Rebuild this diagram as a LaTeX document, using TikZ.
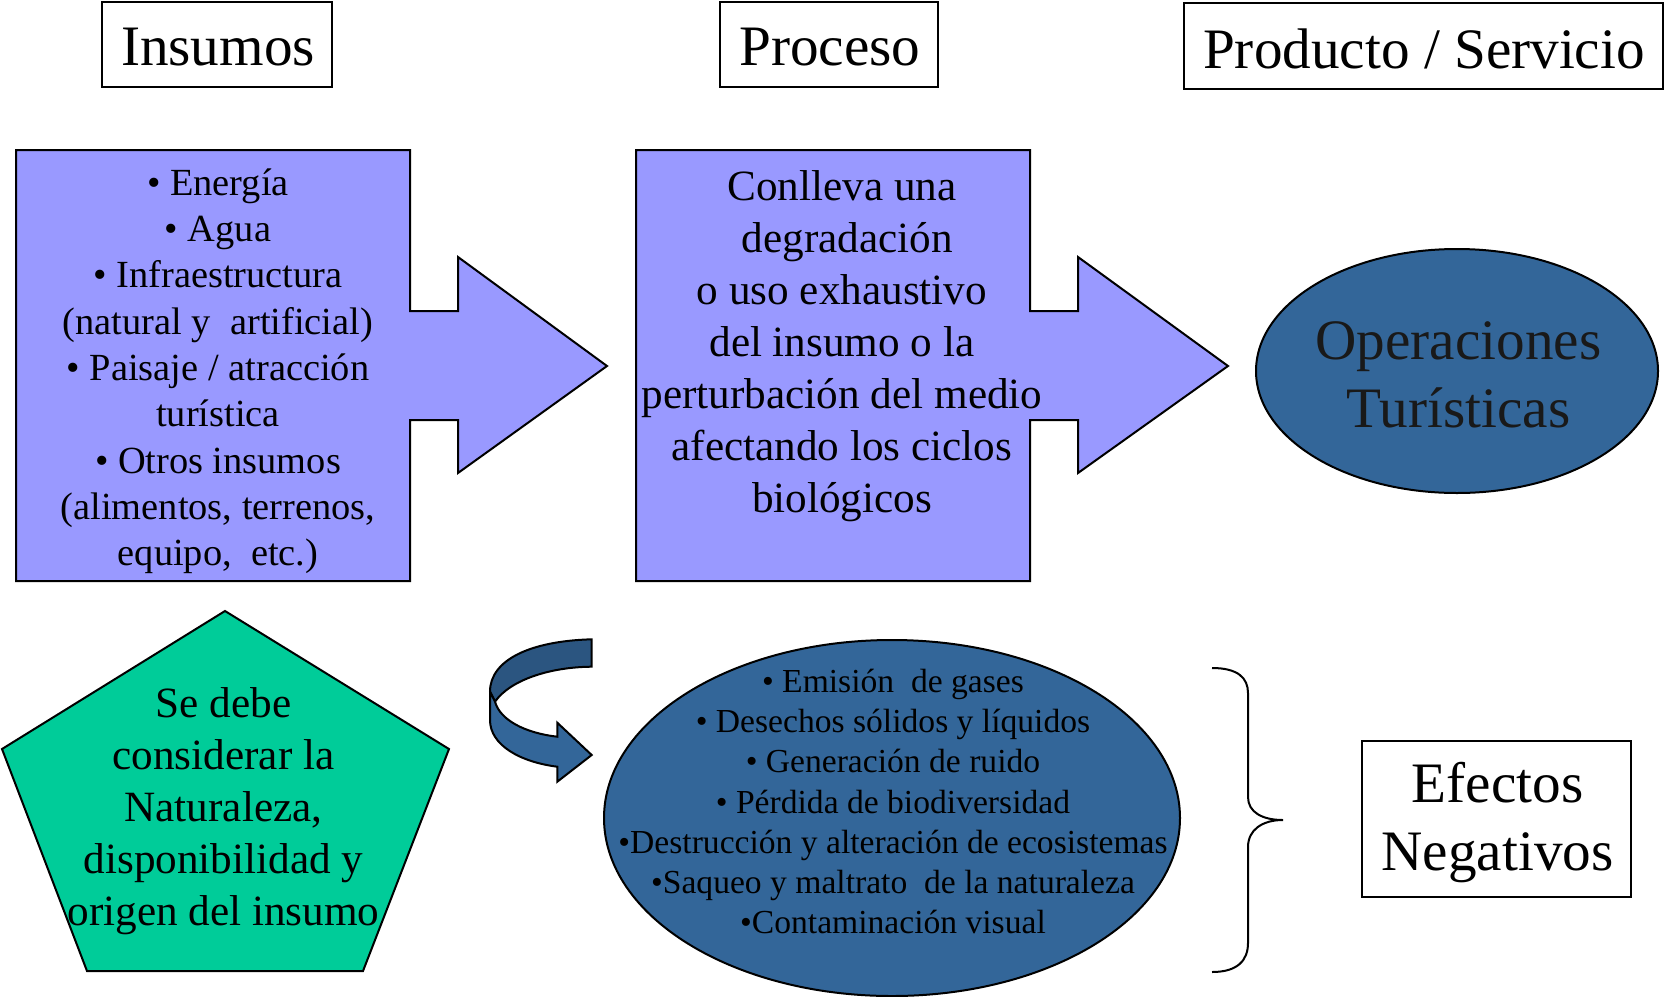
\documentclass[tikz,border=0pt]{standalone}
\usepackage{fontspec}
\setmainfont{Liberation Serif}
\usetikzlibrary{shapes.geometric}
\definecolor{lilac}{HTML}{9999FF}
\definecolor{steel}{HTML}{336699}
\definecolor{steeldark}{HTML}{2B5580}
\definecolor{mint}{HTML}{00CC99}
\tikzset{
  x=0.5pt,y=-0.5pt,
  shapeline/.style={draw=black,line width=1pt},
  titlebox/.style={draw=black,line width=1pt,fill=white,inner sep=0pt},
  midtext/.style={align=center,inner sep=0pt,font=\fontsize{21.6pt}{26pt}\selectfont},
  smalltext/.style={align=center,inner sep=0pt,font=\fontsize{19.2pt}{23.15pt}\selectfont},
  tinytext/.style={align=center,inner sep=0pt,font=\fontsize{16.8pt}{20.05pt}\selectfont},
  bigtext/.style={align=center,inner sep=0pt,font=\fontsize{28.6pt}{34pt}\selectfont},
}
\begin{document}
\begin{tikzpicture}
\useasboundingbox[fill=white] (0,0) rectangle (1664,996);

% titles
\node[titlebox,minimum width=115pt,minimum height=42.5pt] (tin) at (217,44.5) {};
\node[bigtext] (tint) at (218,47.5) {Insumos};
\node[titlebox,minimum width=109pt,minimum height=42.5pt] (tpr) at (829,44.5) {};
\node[bigtext] (tprt) at (830,47.5) {Proceso};
\node[titlebox,minimum width=239.5pt,minimum height=43pt] (tps) at (1423.5,46) {};
\node[bigtext] (tpst) at (1424,49) {Producto / Servicio};

% input box arrow
\path[shapeline,fill=lilac] (16,150) -- (410,150) -- (410,311) -- (458,311) -- (458,257) -- (607,366)
  -- (458,473) -- (458,420) -- (410,420) -- (410,581) -- (16,581) -- cycle;
\node[smalltext] (ins) at (218,371.3) {• Energía\\• Agua\\• Infraestructura\\(natural y\ \ artificial)\\• Paisaje / atracción\\turística\\• Otros insumos\\(alimentos, terrenos,\\equipo,\ \ etc.)};

% process box arrow
\path[shapeline,fill=lilac] (636,150) -- (1030,150) -- (1030,311) -- (1078,311) -- (1078,257) -- (1228,366)
  -- (1078,473) -- (1078,420) -- (1030,420) -- (1030,581) -- (636,581) -- cycle;
\node[midtext] (pro) at (842,346.2) {Conlleva una\\\ degradación\\o uso exhaustivo\\del insumo o la\\perturbación del medio\\afectando los ciclos\\biológicos};

% product ellipse
\node[ellipse,shapeline,fill=steel,minimum width=201pt,minimum height=122pt,inner sep=0pt] (ope) at (1457,371) {};
\node[bigtext,text=black!90] (opet) at (1458.5,375) {Operaciones\\Turísticas};

% pentagon
\path[shapeline,fill=mint] (225,611) -- (449,749) -- (363,971) -- (87,971) -- (2,749) -- cycle;
\node[midtext] (pen) at (223.5,811.2) {Se debe\\considerar la\\Naturaleza,\\disponibilidad y\\origen del insumo};

% curved arrow
\path[shapeline,fill=steeldark] (591.7,639.3) .. controls (530,641) and (490,660) .. (490,691.7)
  -- (495,701.7) .. controls (510,680) and (550,667) .. (591.7,666.7) -- cycle;
\path[shapeline,fill=steel] (490,691.7) -- (490,720) .. controls (490,745) and (520,762) .. (557.3,766.7)
  -- (557.3,781.7) -- (591.7,755) -- (557.3,722.7) -- (557.3,736.7)
  .. controls (525,733) and (500,720) .. (495,701.7) -- cycle;

% effects ellipse
\node[ellipse,shapeline,fill=steel,minimum width=288pt,minimum height=178pt,inner sep=0pt] (efe) at (892,818) {};
\node[tinytext] (efet) at (893,801.5) {• Emisión\ \ de gases\\• Desechos sólidos y líquidos\\• Generación de ruido\\• Pérdida de biodiversidad\\•Destrucción y alteración de ecosistemas\\•Saqueo y maltrato\ \ de la naturaleza\\•Contaminación visual};

% brace
\draw[line width=1pt] (1212,668) .. controls (1238,668) and (1248,678) .. (1248,693) -- (1248,797)
  .. controls (1248,812) and (1262,820) .. (1283,820) .. controls (1262,820) and (1248,830) .. (1248,847)
  -- (1248,943) .. controls (1248,960) and (1238,972) .. (1212,972);

% effects label
\node[titlebox,minimum width=134.5pt,minimum height=78pt] (neg) at (1496.5,819) {};
\node[bigtext] (negt) at (1497.5,823) {Efectos\ \\Negativos};
\end{tikzpicture}
\end{document}
